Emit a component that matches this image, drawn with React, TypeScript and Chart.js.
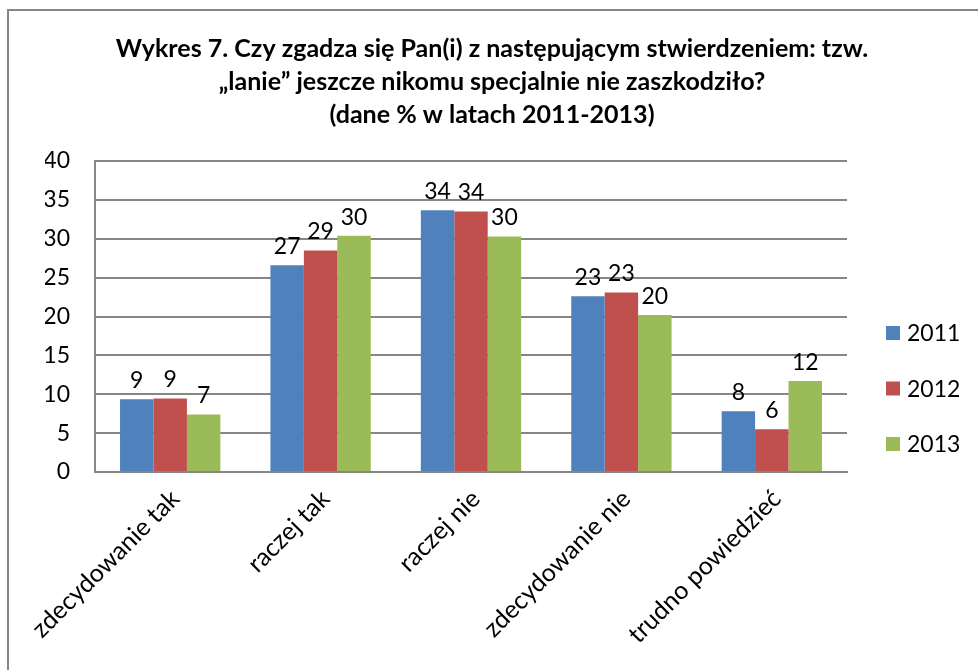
import React, { useEffect, useRef } from "react";
import { Chart, registerables } from "chart.js";

Chart.register(...registerables);

const categories = ["zdecydowanie tak", "raczej tak", "raczej nie", "zdecydowanie nie", "trudno powiedzieć"];
const seriesNames = ["2011", "2012", "2013"];
const values2011 = [9.35, 26.6, 33.65, 22.6, 7.8];
const values2012 = [9.45, 28.5, 33.5, 23.1, 5.5];
const values2013 = [7.4, 30.4, 30.3, 20.2, 11.7];
const labels2011 = ["9", "27", "34", "23", "8"];
const labels2012 = ["9", "29", "34", "23", "6"];
const labels2013 = ["7", "30", "30", "20", "12"];
const seriesColors = ["#4F81BD", "#C0504D", "#9BBB59"];
const yMin = 0;
const yMax = 40;
const yStep = 5;
const titleLines = [
  "Wykres 7. Czy zgadza się Pan(i) z następującym stwierdzeniem: tzw.",
  "„lanie” jeszcze nikomu specjalnie nie zaszkodziło?",
  "(dane % w latach 2011-2013)",
];

const FONT = "Lato, 'Open Sans', sans-serif";
const GRID = "#868686";

export default function App() {
  const ref = useRef<HTMLCanvasElement | null>(null);

  useEffect(() => {
    document.body.style.margin = "0";
    const canvas = ref.current;
    if (!canvas) return;
    const valueSets = [values2011, values2012, values2013];
    const labelSets = [labels2011, labels2012, labels2013];

    const framePlugin = {
      id: "frame",
      beforeDraw(chart: any) {
        const ctx = chart.ctx;
        ctx.save();
        ctx.fillStyle = "#fff";
        ctx.fillRect(0, 0, chart.width, chart.height);
        ctx.strokeStyle = GRID;
        ctx.lineWidth = 2;
        ctx.beginPath();
        ctx.moveTo(8, chart.height + 5);
        ctx.lineTo(8, 10);
        ctx.lineTo(chart.width + 5, 10);
        ctx.stroke();
        ctx.restore();
      },
    };

    const titlePlugin = {
      id: "titleText",
      afterDraw(chart: any) {
        const ctx = chart.ctx;
        ctx.save();
        let size = 20;
        ctx.font = `bold ${size}px ${FONT}`;
        const w = ctx.measureText(titleLines[0]).width;
        size = (20 * 753) / w;
        ctx.font = `bold ${size}px ${FONT}`;
        ctx.fillStyle = "#000";
        ctx.textAlign = "center";
        ctx.textBaseline = "middle";
        titleLines.forEach((line, i) => {
          ctx.fillText(line, 492, 49 + i * 33);
        });
        ctx.restore();
      },
    };

    const dataLabelPlugin = {
      id: "dataLabels",
      afterDatasetsDraw(chart: any) {
        const ctx = chart.ctx;
        ctx.save();
        ctx.font = `23px ${FONT}`;
        ctx.fillStyle = "#000";
        ctx.textAlign = "center";
        ctx.textBaseline = "bottom";
        chart.data.datasets.forEach((ds: any, di: number) => {
          const meta = chart.getDatasetMeta(di);
          meta.data.forEach((bar: any, i: number) => {
            ctx.fillText(labelSets[di][i], bar.x, bar.y - 7);
          });
        });
        ctx.restore();
      },
    };

    const legendPlugin = {
      id: "customLegend",
      afterDraw(chart: any) {
        const ctx = chart.ctx;
        const area = chart.chartArea;
        ctx.save();
        ctx.font = `23px ${FONT}`;
        ctx.textAlign = "left";
        ctx.textBaseline = "middle";
        seriesNames.forEach((name, i) => {
          const cy = area.top + 172 + i * 55.5;
          const x = area.right + 39;
          ctx.fillStyle = seriesColors[i];
          ctx.fillRect(x, cy - 7, 14, 14);
          ctx.fillStyle = "#000";
          ctx.fillText(name, x + 21, cy + 1);
        });
        ctx.restore();
      },
    };

    const chart = new Chart(canvas, {
      type: "bar",
      data: {
        labels: categories,
        datasets: seriesNames.map((name, i) => ({
          label: name,
          data: valueSets[i],
          backgroundColor: seriesColors[i],
          borderWidth: 0,
          categoryPercentage: 0.667,
          barPercentage: 1,
        })),
      },
      options: {
        responsive: false,
        animation: false,
        layout: { padding: { left: 45, right: 131, top: 161, bottom: 0 } },
        plugins: {
          legend: { display: false },
          title: { display: false },
          tooltip: { enabled: false },
        },
        scales: {
          x: {
            grid: { display: false, drawTicks: false },
            border: { display: true, color: GRID, width: 2 },
            ticks: {
              color: "#000",
              font: { family: FONT, size: 25 },
              minRotation: 45,
              maxRotation: 45,
              padding: 12,
              labelOffset: 5,
            },
            afterFit: (s: any) => {
              s.height = 198;
            },
          },
          y: {
            min: yMin,
            max: yMax,
            ticks: {
              stepSize: yStep,
              color: "#000",
              font: { family: FONT, size: 23 },
              padding: 25,
            },
            grid: { color: GRID, lineWidth: 2, drawTicks: false },
            border: { display: true, color: GRID, width: 2 },
            afterFit: (s: any) => {
              s.width = 50;
            },
          },
        },
      },
      plugins: [framePlugin, titlePlugin, dataLabelPlugin, legendPlugin],
    });

    return () => chart.destroy();
  }, []);

  return (
    <div style={{ width: 978, height: 670 }}>
      <canvas ref={ref} width={978} height={670} />
    </div>
  );
}
